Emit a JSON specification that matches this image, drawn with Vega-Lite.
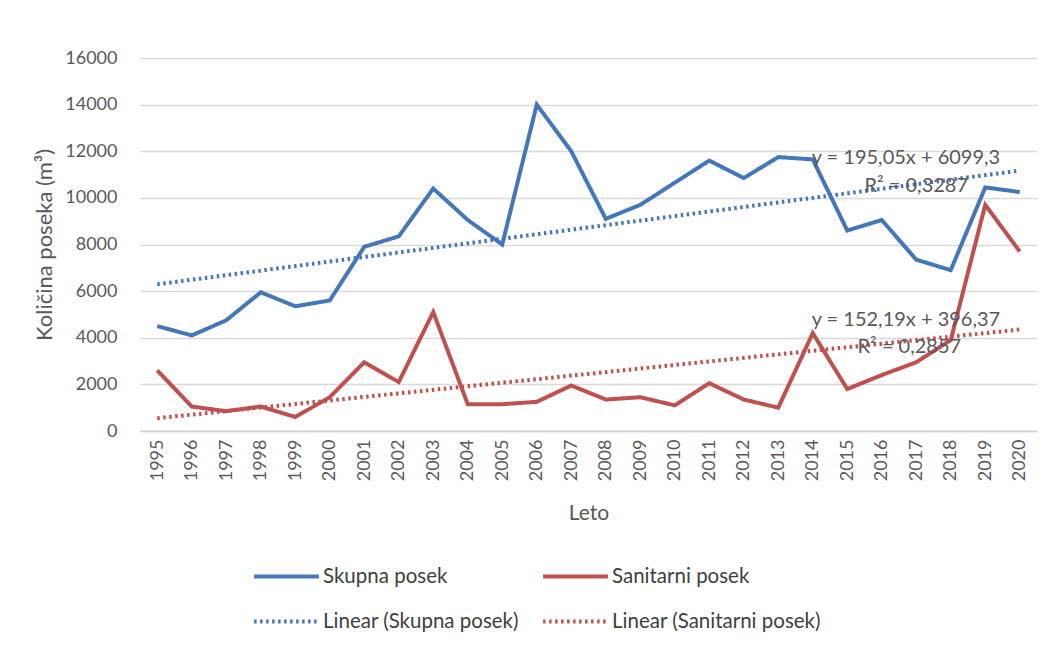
{
  "$schema": "https://vega.github.io/schema/vega-lite/v6.json",
  "width": 897,
  "height": 373,
  "autosize": {"type": "none"},
  "padding": {"left": 140, "top": 58, "right": 12, "bottom": 223},
  "background": "white",
  "config": {
    "font": "Lato",
    "view": {"stroke": null},
    "axis": {"labelFont": "Lato", "titleFont": "Lato", "labelColor": "#595959", "titleColor": "#595959", "titleFontWeight": "normal"},
    "axisX": {"labelOverlap": false}
  },
  "datasets": {
    "series": [
      {"year": 1995, "series": "Skupna posek", "value": 4500},
      {"year": 1996, "series": "Skupna posek", "value": 4100},
      {"year": 1997, "series": "Skupna posek", "value": 4750},
      {"year": 1998, "series": "Skupna posek", "value": 5950},
      {"year": 1999, "series": "Skupna posek", "value": 5350},
      {"year": 2000, "series": "Skupna posek", "value": 5600},
      {"year": 2001, "series": "Skupna posek", "value": 7900},
      {"year": 2002, "series": "Skupna posek", "value": 8350},
      {"year": 2003, "series": "Skupna posek", "value": 10400},
      {"year": 2004, "series": "Skupna posek", "value": 9050},
      {"year": 2005, "series": "Skupna posek", "value": 8000},
      {"year": 2006, "series": "Skupna posek", "value": 14000},
      {"year": 2007, "series": "Skupna posek", "value": 12000},
      {"year": 2008, "series": "Skupna posek", "value": 9100},
      {"year": 2009, "series": "Skupna posek", "value": 9700},
      {"year": 2010, "series": "Skupna posek", "value": 10650},
      {"year": 2011, "series": "Skupna posek", "value": 11600},
      {"year": 2012, "series": "Skupna posek", "value": 10850},
      {"year": 2013, "series": "Skupna posek", "value": 11750},
      {"year": 2014, "series": "Skupna posek", "value": 11650},
      {"year": 2015, "series": "Skupna posek", "value": 8600},
      {"year": 2016, "series": "Skupna posek", "value": 9050},
      {"year": 2017, "series": "Skupna posek", "value": 7350},
      {"year": 2018, "series": "Skupna posek", "value": 6900},
      {"year": 2019, "series": "Skupna posek", "value": 10450},
      {"year": 2020, "series": "Skupna posek", "value": 10250},
      {"year": 1995, "series": "Sanitarni posek", "value": 2600},
      {"year": 1996, "series": "Sanitarni posek", "value": 1050},
      {"year": 1997, "series": "Sanitarni posek", "value": 850},
      {"year": 1998, "series": "Sanitarni posek", "value": 1050},
      {"year": 1999, "series": "Sanitarni posek", "value": 600},
      {"year": 2000, "series": "Sanitarni posek", "value": 1450},
      {"year": 2001, "series": "Sanitarni posek", "value": 2950},
      {"year": 2002, "series": "Sanitarni posek", "value": 2100},
      {"year": 2003, "series": "Sanitarni posek", "value": 5100},
      {"year": 2004, "series": "Sanitarni posek", "value": 1150},
      {"year": 2005, "series": "Sanitarni posek", "value": 1150},
      {"year": 2006, "series": "Sanitarni posek", "value": 1250},
      {"year": 2007, "series": "Sanitarni posek", "value": 1950},
      {"year": 2008, "series": "Sanitarni posek", "value": 1350},
      {"year": 2009, "series": "Sanitarni posek", "value": 1450},
      {"year": 2010, "series": "Sanitarni posek", "value": 1100},
      {"year": 2011, "series": "Sanitarni posek", "value": 2050},
      {"year": 2012, "series": "Sanitarni posek", "value": 1350},
      {"year": 2013, "series": "Sanitarni posek", "value": 1000},
      {"year": 2014, "series": "Sanitarni posek", "value": 4200},
      {"year": 2015, "series": "Sanitarni posek", "value": 1800},
      {"year": 2016, "series": "Sanitarni posek", "value": 2400},
      {"year": 2017, "series": "Sanitarni posek", "value": 2950},
      {"year": 2018, "series": "Sanitarni posek", "value": 3900},
      {"year": 2019, "series": "Sanitarni posek", "value": 9700},
      {"year": 2020, "series": "Sanitarni posek", "value": 7700},
      {"year": 1995, "series": "Linear (Skupna posek)", "value": 6294},
      {"year": 2020, "series": "Linear (Skupna posek)", "value": 11170},
      {"year": 1995, "series": "Linear (Sanitarni posek)", "value": 549},
      {"year": 2020, "series": "Linear (Sanitarni posek)", "value": 4353}
    ],
    "notes": [
      {"year": 2016.7, "value": 11720, "label": "y = 195,05x + 6099,3"},
      {"year": 2017.0, "value": 10515, "label": "R² = 0,3287"},
      {"year": 2016.7, "value": 4764, "label": "y = 152,19x + 396,37"},
      {"year": 2016.8, "value": 3605, "label": "R² = 0,2857"}
    ]
  },
  "encoding": {
    "x": {
      "field": "year", "type": "quantitative",
      "scale": {"domain": [1994.5, 2020.5], "nice": false, "zero": false},
      "axis": {
        "values": [1995,1996,1997,1998,1999,2000,2001,2002,2003,2004,2005,2006,2007,2008,2009,2010,2011,2012,2013,2014,2015,2016,2017,2018,2019,2020],
        "format": "d", "labelAngle": -90, "labelAlign": "right", "labelBaseline": "middle", "labelFontSize": 18, "labelPadding": 8, "labelOverlap": false, "labelBound": false, "labelFlush": false,
        "ticks": false, "grid": false, "domain": true, "domainColor": "#d0d0d0", "domainWidth": 1.5,
        "title": "Leto", "titleFontSize": 21, "titlePadding": 22
      }
    },
    "y": {
      "field": "value", "type": "quantitative",
      "scale": {"domain": [0, 16000], "nice": false},
      "axis": {
        "values": [0,2000,4000,6000,8000,10000,12000,14000,16000],
        "format": "d", "labelFontSize": 18, "labelPadding": 23,
        "ticks": false, "domain": false, "grid": true, "gridColor": "#d9d9d9", "gridWidth": 1.5,
        "title": "Količina poseka (m³)", "titleFontSize": 22, "titlePadding": 8
      }
    }
  },
  "layer": [
    {
      "data": {"name": "series"},
      "mark": {"type": "line", "strokeCap": "butt", "strokeJoin": "miter"},
      "encoding": {
        "color": {
          "field": "series", "type": "nominal",
          "scale": {
            "domain": ["Skupna posek", "Sanitarni posek", "Linear (Skupna posek)", "Linear (Sanitarni posek)"],
            "range": ["#4376bb", "#c0504d", "#4376bb", "#c0504d"]
          },
          "legend": {
            "title": null, "orient": "none", "legendX": 112, "legendY": 484, "direction": "horizontal",
            "columns": 2, "columnPadding": 16, "rowPadding": -20,
            "symbolType": "stroke", "symbolSize": 4200, "symbolStrokeWidth": 4,
            "labelFontSize": 20.5, "labelColor": "#404040", "labelOffset": 2, "labelLimit": 400
          }
        },
        "strokeDash": {
          "field": "series", "type": "nominal",
          "scale": {
            "domain": ["Skupna posek", "Sanitarni posek", "Linear (Skupna posek)", "Linear (Sanitarni posek)"],
            "range": [[1, 0], [1, 0], [2.5, 3.5], [2.5, 3.5]]
          }
        },
        "strokeWidth": {
          "field": "series", "type": "nominal",
          "scale": {
            "domain": ["Skupna posek", "Sanitarni posek", "Linear (Skupna posek)", "Linear (Sanitarni posek)"],
            "range": [4, 4, 2.5, 2.5]
          }
        }
      }
    },
    {
      "data": {"name": "notes"},
      "mark": {"type": "text", "fontSize": 20, "color": "#595959", "align": "center", "baseline": "middle"},
      "encoding": {
        "text": {"field": "label"}
      }
    }
  ]
}
